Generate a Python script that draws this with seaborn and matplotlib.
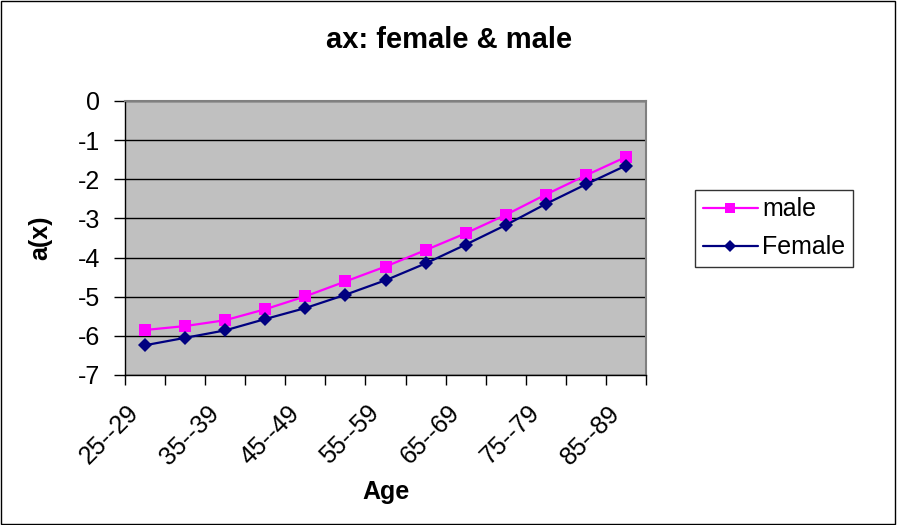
import matplotlib
matplotlib.use("Agg")
import matplotlib.pyplot as plt
import matplotlib.patches as mpatches
import matplotlib.transforms as mtransforms
from matplotlib.ticker import FixedLocator, NullFormatter
import numpy as np
import pandas as pd
import seaborn as sns

# Age groups and a(x) parameter estimates for each sex
age_groups = ["25--29", "30--34", "35--39", "40--44", "45--49", "50--54", "55--59",
              "60--64", "65--69", "70--74", "75--79", "80--84", "85--89"]
male = [-5.85, -5.75, -5.60, -5.32, -4.99, -4.61, -4.23,
        -3.81, -3.38, -2.91, -2.39, -1.90, -1.43]
female = [-6.24, -6.05, -5.86, -5.57, -5.29, -4.95, -4.58,
          -4.15, -3.67, -3.17, -2.63, -2.13, -1.65]
y_ticks = [0, -1, -2, -3, -4, -5, -6, -7]

sns.set_style("white")
plt.rcParams["font.family"] = ["Liberation Sans", "DejaVu Sans"]
plt.rcParams["text.color"] = "black"
plt.rcParams["axes.labelcolor"] = "black"
plt.rcParams["xtick.color"] = "black"
plt.rcParams["ytick.color"] = "black"

df = pd.DataFrame({
    "Age": age_groups * 2,
    "a(x)": male + female,
    "sex": ["male"] * len(male) + ["Female"] * len(female),
})

fig = plt.figure(figsize=(8.97, 5.25), dpi=100)
ax = fig.add_axes([125 / 897, 1 - 375 / 525, 521 / 897, 274 / 525])
ax.set_facecolor("#C0C0C0")

sns.lineplot(data=df, x="Age", y="a(x)", hue="sex", style="sex",
             hue_order=["male", "Female"], style_order=["male", "Female"],
             palette={"male": "#FF00FF", "Female": "#000080"},
             markers={"male": "s", "Female": "D"}, dashes=False,
             markersize=8, linewidth=1.6, markeredgewidth=0, ax=ax,
             sort=False)
for line in ax.lines:
    if line.get_marker() == "D":
        line.set_markersize(7.5)

ax.set_xlim(-0.5, len(age_groups) - 0.5)
ax.set_ylim(-7, 0)

# horizontal gridlines at every integer
ax.set_yticks(y_ticks)
ax.set_yticklabels([str(v) for v in y_ticks], fontsize=18)
ax.yaxis.grid(True, color="black", linewidth=1)
ax.set_axisbelow(True)

# x: labels on every other category, tick marks on category boundaries
ax.set_xticks(range(0, len(age_groups), 2))
ax.set_xticklabels(age_groups[::2], fontsize=18, rotation=45,
                   ha="right", va="center", rotation_mode="anchor")
ax.xaxis.set_minor_locator(FixedLocator(np.arange(-0.5, len(age_groups), 1)))
ax.xaxis.set_minor_formatter(NullFormatter())
ax.tick_params(axis="x", which="major", length=0, pad=14)
ax.tick_params(axis="x", which="minor", length=7, width=1, color="black",
               direction="out", bottom=True)
ax.tick_params(axis="y", length=8, width=1, color="black", direction="out",
               left=True, pad=10)
offset = mtransforms.ScaledTranslation(-10 / 100, -15 / 100, fig.dpi_scale_trans)
for lab in ax.get_xticklabels():
    lab.set_transform(lab.get_transform() + offset)

for side in ["top", "right"]:
    ax.spines[side].set_color("#808080")
    ax.spines[side].set_linewidth(1.5)
for side in ["left", "bottom"]:
    ax.spines[side].set_color("black")
    ax.spines[side].set_linewidth(1)

ax.set_xlabel("")
ax.set_ylabel("")
fig.text(386 / 897, 1 - 492 / 525, "Age", fontsize=18, fontweight="bold",
         ha="center", va="center")
fig.text(40 / 897, 1 - 238 / 525, "a(x)", fontsize=18, fontweight="bold",
         ha="center", va="center", rotation=90)
fig.text(449 / 897, 1 - 40 / 525, "ax: female & male", fontsize=21,
         fontweight="bold", ha="center", va="center")

handles, labels = ax.get_legend_handles_labels()
leg = ax.legend(handles, labels, loc="upper left",
                bbox_to_anchor=(695 / 897, 1 - 190 / 525),
                bbox_transform=fig.transFigure, fontsize=18, frameon=True,
                fancybox=False, edgecolor="black", handlelength=2.2,
                borderpad=0.3, labelspacing=0.55, handletextpad=0.2,
                borderaxespad=0)
leg.get_frame().set_linewidth(1)
for h in leg.legend_handles:
    h.set_markersize(6.5)

# thin border around the whole chart
fig.patches.append(mpatches.Rectangle((0.001, 0.002), 0.997, 0.996,
                                      transform=fig.transFigure, fill=False,
                                      edgecolor="black", linewidth=1))

fig.savefig("out.png", dpi=100, facecolor="white")
